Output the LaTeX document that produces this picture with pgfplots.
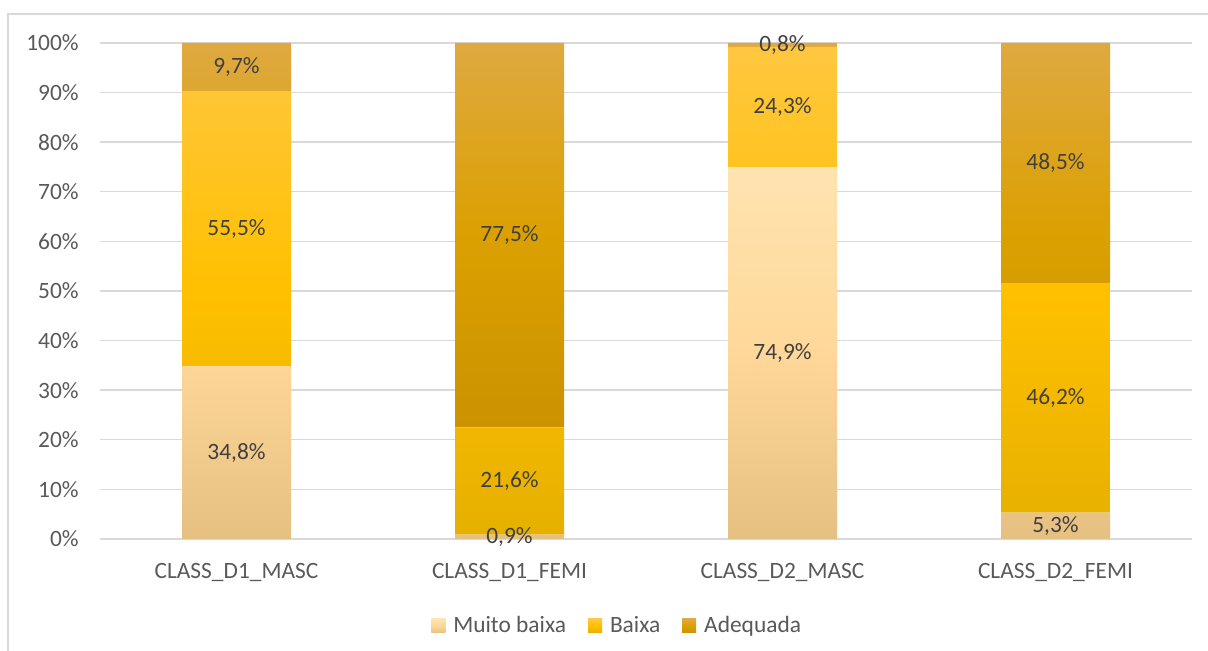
\documentclass[border=0pt]{standalone}
\usepackage{pgfplots}
\pgfplotsset{compat=1.18}
\usepackage{fontspec}
\setmainfont{Carlito}
\definecolor{gridgray}{HTML}{D9D9D9}
\definecolor{ticktext}{HTML}{595959}
\definecolor{lbltext}{HTML}{404040}
\definecolor{mbTop}{HTML}{FFE3B0}
\definecolor{mbMid}{HTML}{FFD899}
\definecolor{mbBot}{HTML}{E6C080}
\definecolor{bxTop}{HTML}{FFC740}
\definecolor{bxMid}{HTML}{FFC000}
\definecolor{bxBot}{HTML}{E6B000}
\definecolor{adTop}{HTML}{DFA941}
\definecolor{adMid}{HTML}{DBA000}
\definecolor{adBot}{HTML}{CC9200}
\begin{document}
\begin{tikzpicture}
\path[use as bounding box] (0,0) rectangle (604pt,325.5pt);
\draw[gridgray, line width=1pt] (4pt,0) -- (4pt,318.5pt) -- (604pt,318.5pt);
\pgfplotsset{commonax/.style={
  at={(50pt,56pt)}, anchor=south west,
  scale only axis, width=546pt, height=248pt,
  xmin=-0.5, xmax=3.5, ymin=0, ymax=100,
}}
\begin{axis}[
  commonax,
  ybar stacked, bar width=54.5pt,
  axis line style={draw=none}, tick style={draw=none},
  ymajorgrids, grid style={gridgray, line width=0.7pt},
  ytick={0,10,...,100},
  yticklabels={0\%,10\%,20\%,30\%,40\%,50\%,60\%,70\%,80\%,90\%,100\%},
  xtick={0,1,2,3},
  xticklabels={CLASS\_D1\_MASC,CLASS\_D1\_FEMI,CLASS\_D2\_MASC,CLASS\_D2\_FEMI},
  tick label style={font=\fontsize{11.7}{14}\selectfont, text=ticktext},
  yticklabel style={inner sep=0pt, anchor=east, xshift=-10.5pt},
  xticklabel style={inner sep=0pt, anchor=base, yshift=-20pt},
  legend columns=3,
  legend style={draw=none, at={(axis description cs:0.4745,-0.175)}, anchor=center,
    font=\fontsize{11.7}{14}\selectfont, text=ticktext,
    /tikz/every odd column/.append style={column sep=2pt},
    /tikz/every even column/.append style={column sep=9pt}},
  legend image code/.code={\path[#1, draw=none] (0pt,-3.5pt) rectangle (7pt,3.5pt);},
]
\addplot[draw=none, top color=mbTop, bottom color=mbBot, middle color=mbMid]
  coordinates {(0,34.8) (1,0.9) (2,74.9) (3,5.3)};
\addlegendentry{Muito baixa}
\addplot[draw=none, top color=bxTop, bottom color=bxBot, middle color=bxMid]
  coordinates {(0,55.5) (1,21.6) (2,24.3) (3,46.2)};
\addlegendentry{Baixa}
\addplot[draw=none, top color=adTop, bottom color=adBot, middle color=adMid]
  coordinates {(0,9.7) (1,77.5) (2,0.8) (3,48.5)};
\addlegendentry{Adequada}
\end{axis}
\begin{axis}[commonax, hide axis]
\addplot[only marks, mark=*, mark size=0pt, mark options={draw=none,fill=none},
  point meta=explicit symbolic, nodes near coords,
  every node near coord/.append style={anchor=center, text=lbltext,
    font=\fontsize{11.7}{14}\selectfont}]
  coordinates {
    (0,17.4) [34,8\%] (0,62.55) [55,5\%] (0,95.15) [9,7\%]
    (1,0.45) [0,9\%] (1,11.7) [21,6\%] (1,61.25) [77,5\%]
    (2,37.45) [74,9\%] (2,87.1) [24,3\%] (2,99.6) [0,8\%]
    (3,2.65) [5,3\%] (3,28.4) [46,2\%] (3,75.75) [48,5\%]
  };
\end{axis}
\end{tikzpicture}
\end{document}
